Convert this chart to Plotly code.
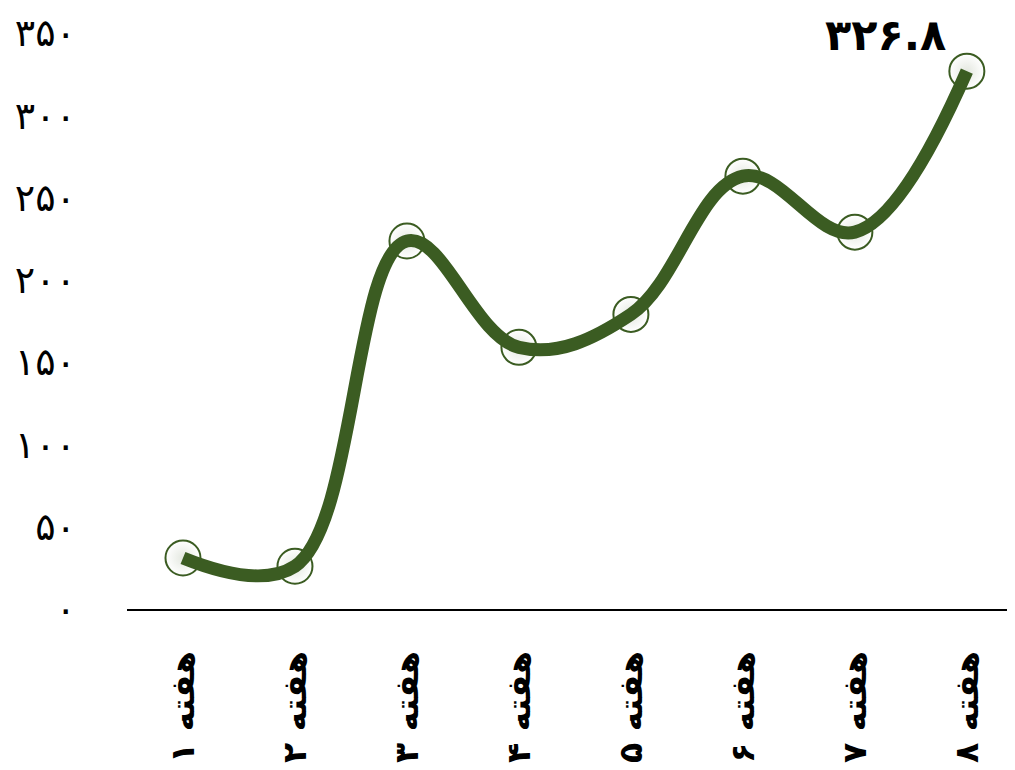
import plotly.graph_objects as go

categories = ["هفته ۱", "هفته ۲", "هفته ۳", "هفته ۴", "هفته ۵", "هفته ۶", "هفته ۷", "هفته ۸"]
values = [31, 26, 223.6, 159, 179, 263, 229, 326.8]
y_tickvals = [0, 50, 100, 150, 200, 250, 300, 350]
y_ticktext = ["۰", "۵۰", "۱۰۰", "۱۵۰", "۲۰۰", "۲۵۰", "۳۰۰", "۳۵۰"]
last_label = "۳۲۶.۸"

x_idx = list(range(len(categories)))
green = "#3b5c22"
font_fa = "DejaVu Sans"

fig = go.Figure()
fig.add_trace(go.Scatter(
    x=x_idx, y=values, mode="markers",
    marker=dict(size=35, color="#ffffff", line=dict(color=green, width=2),
                gradient=dict(type="radial", color="#e4e8e0")),
    hoverinfo="skip", showlegend=False,
))
fig.add_trace(go.Scatter(
    x=x_idx, y=values, mode="lines",
    line=dict(color=green, width=13, shape="spline", smoothing=1.1),
    showlegend=False,
))

fig.add_annotation(
    x=x_idx[-1], y=values[-1], xref="x", yref="y",
    text="<b>" + last_label + "</b>", showarrow=False,
    xshift=-81, yshift=36,
    font=dict(family=font_fa, size=43, color="black"),
)

fig.update_layout(
    width=1007, height=762,
    margin=dict(l=119, r=0, t=25, b=161),
    paper_bgcolor="white", plot_bgcolor="white",
    xaxis=dict(
        range=[-0.5, 7.43], tickvals=x_idx,
        ticktext=["<b>" + c + "</b>" for c in categories],
        tickangle=-90, showgrid=False, zeroline=False, automargin=False,
        showline=True, linecolor="black", linewidth=2,
        ticks="", ticklabelstandoff=27,
        tickfont=dict(family=font_fa, size=33, color="black"),
    ),
    yaxis=dict(
        range=[0, 350], tickvals=y_tickvals, ticktext=y_ticktext,
        showgrid=False, zeroline=False, showline=False, automargin=False,
        ticks="", ticklabelstandoff=50,
        tickfont=dict(family=font_fa, size=38, color="black"),
    ),
)

fig.write_html("out.html")
